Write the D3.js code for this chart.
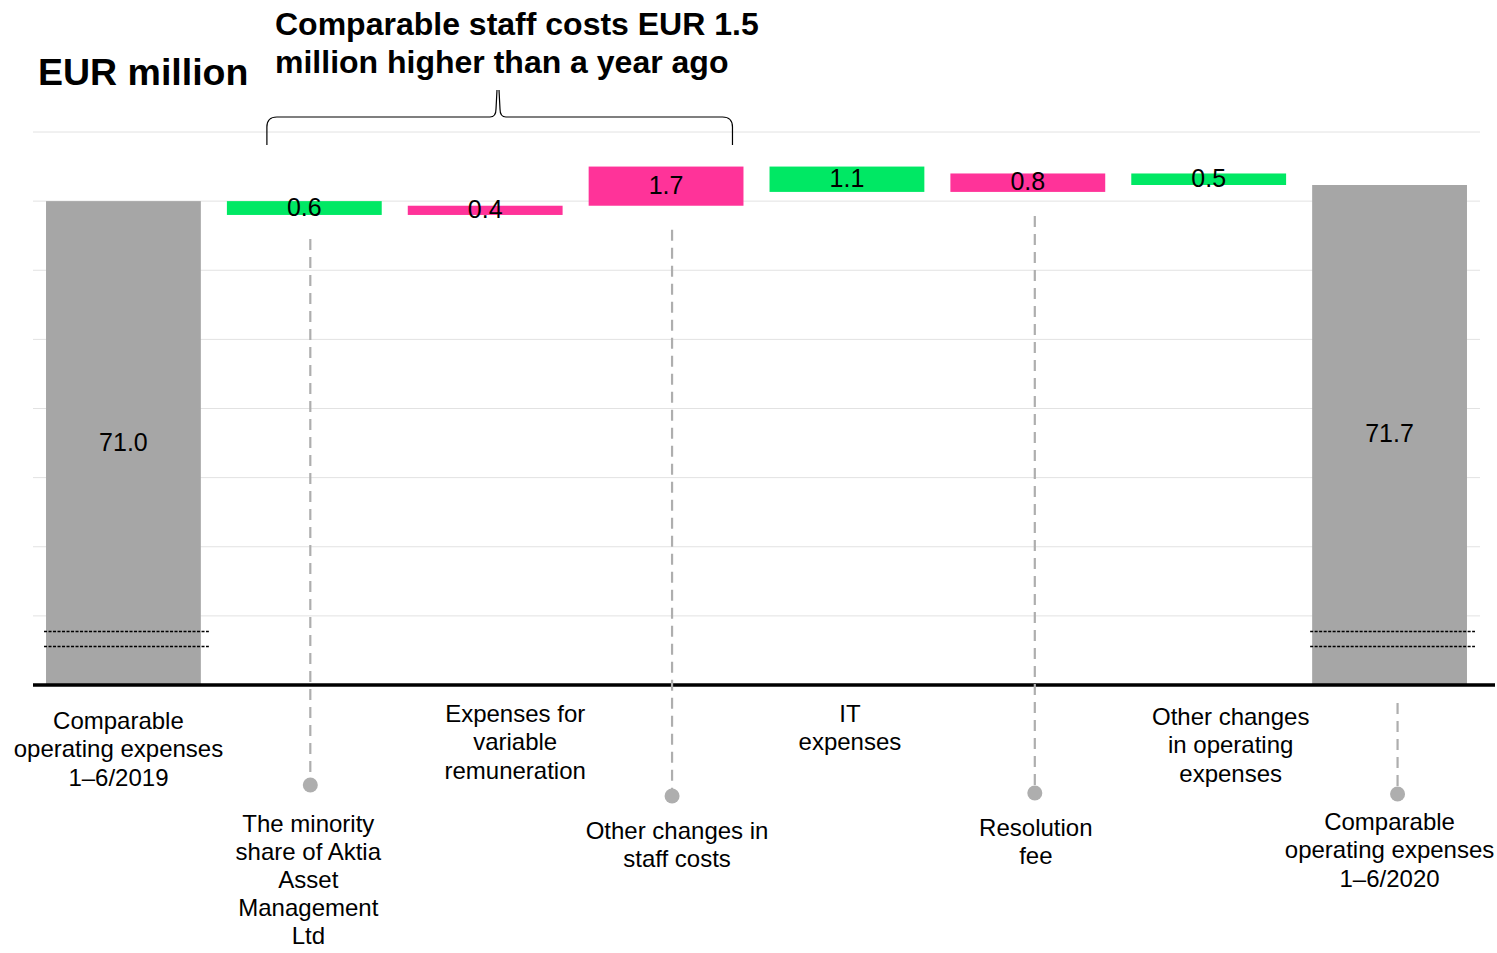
<!DOCTYPE html>
<html>
<head>
<meta charset="utf-8">
<script src="https://cdn.jsdelivr.net/npm/d3@7"></script>
<style>
  html, body { margin: 0; padding: 0; background: #fff; }
  svg { display: block; font-family: "Liberation Sans", Arial, sans-serif; }
</style>
</head>
<body>
<svg id="chart" width="1497" height="953"></svg>
<script>
// Waterfall: comparable operating expenses 1-6/2019 -> 1-6/2020 (EUR million)
const categories = [
  "Comparable operating expenses 1–6/2019",
  "The minority share of Aktia Asset Management Ltd",
  "Expenses for variable remuneration",
  "Other changes in staff costs",
  "IT expenses",
  "Resolution fee",
  "Other changes in operating expenses",
  "Comparable operating expenses 1–6/2020"
];
const labelLines = [
  ["Comparable", "operating expenses", "1–6/2019"],
  ["The minority", "share of Aktia", "Asset", "Management", "Ltd"],
  ["Expenses for", "variable", "remuneration"],
  ["Other changes in", "staff costs"],
  ["IT", "expenses"],
  ["Resolution", "fee"],
  ["Other changes", "in operating", "expenses"],
  ["Comparable", "operating expenses", "1–6/2020"]
];
const startTotal = 71.0;
const endTotal = 71.7;
const changes = [-0.6, 0.4, 1.7, -1.1, 0.8, -0.5];
const yTicks = [53, 56, 59, 62, 65, 68, 71, 74];
const yDomain = [50, 74];

// label placement: directly under the axis, or hung from a leader line with a dot
const labelMode = ["above", "leader", "above", "leader", "above", "leader", "above", "leader"];
const labelShift = [-5, 4, 30, 11, 3, 8, 22, 0];
const labelTop = [720, 823, 713, 830, 713, 827, 716, 821];
const labelLineH = [28.8, 28.2, 28.8, 28.8, 28.8, 28.8, 28.8, 28.8];
const leaderShift = [0, 6, 0, 6, 0, 7, 0, 8];
const dotY = [0, 785, 0, 796, 0, 793, 0, 794];

const colors = { total: "#a6a6a6", up: "#ff3399", down: "#00e864", leader: "#aeaeae", grid: "#e2e2e2" };

// build waterfall segments
const bars = [];
let running = startTotal;
bars.push({ cat: categories[0], lo: yDomain[0], hi: startTotal, type: "total", label: startTotal.toFixed(1) });
changes.forEach((d, i) => {
  const next = +(running + d).toFixed(2);
  bars.push({ cat: categories[i + 1], lo: Math.min(running, next), hi: Math.max(running, next),
              type: d >= 0 ? "up" : "down", label: Math.abs(d).toFixed(1) });
  running = next;
});
bars.push({ cat: categories[7], lo: yDomain[0], hi: endTotal, type: "total", label: endTotal.toFixed(1) });

const svg = d3.select("#chart");
const x = d3.scaleBand().domain(categories).range([33, 1480]).paddingInner(0.144).paddingOuter(0.072);
const y = d3.scaleLinear().domain(yDomain).range([685, 132]);

// gridlines
svg.append("g").selectAll("line").data(yTicks).join("line")
  .attr("x1", 33).attr("x2", 1480)
  .attr("y1", d => y(d)).attr("y2", d => y(d))
  .attr("stroke", colors.grid).attr("stroke-width", 1);

// bars
svg.append("g").selectAll("rect").data(bars).join("rect")
  .attr("x", d => x(d.cat)).attr("width", x.bandwidth())
  .attr("y", d => y(d.hi)).attr("height", d => y(d.lo) - y(d.hi))
  .attr("fill", d => colors[d.type]);

// axis-break marks on the total bars
const breaks = bars.filter(d => d.type === "total");
[631, 646].forEach(by => {
  svg.append("g").selectAll("line").data(breaks).join("line")
    .attr("x1", d => x(d.cat) - 2).attr("x2", d => x(d.cat) + x.bandwidth() + 8)
    .attr("y1", by + 0.5).attr("y2", by + 0.5)
    .attr("stroke", "#000").attr("stroke-width", 1.4).attr("stroke-dasharray", "3,1.5");
});

// baseline
svg.append("line").attr("x1", 33).attr("x2", 1495).attr("y1", 685).attr("y2", 685)
  .attr("stroke", "#000").attr("stroke-width", 3.5);

// value labels
svg.append("g").selectAll("text").data(bars).join("text")
  .attr("x", d => x(d.cat) + x.bandwidth() / 2)
  .attr("y", d => (y(d.lo) + y(d.hi)) / 2)
  .attr("dy", "0.3em").attr("text-anchor", "middle")
  .attr("font-size", 25).attr("fill", "#000")
  .text(d => d.label);

// leader lines with dots
const leaders = bars.map((d, i) => ({ d, i })).filter(o => labelMode[o.i] === "leader");
const lg = svg.append("g");
lg.selectAll("line").data(leaders).join("line")
  .attr("x1", o => x(o.d.cat) + x.bandwidth() / 2 + leaderShift[o.i])
  .attr("x2", o => x(o.d.cat) + x.bandwidth() / 2 + leaderShift[o.i])
  .attr("y1", o => o.d.type === "total" ? 703 : y(o.d.lo) + 24)
  .attr("y2", o => dotY[o.i])
  .attr("stroke", colors.leader).attr("stroke-width", 2.2).attr("stroke-dasharray", "11,7");
lg.selectAll("circle").data(leaders).join("circle")
  .attr("cx", o => x(o.d.cat) + x.bandwidth() / 2 + leaderShift[o.i])
  .attr("cy", o => dotY[o.i]).attr("r", 7.5).attr("fill", colors.leader);

// category labels
const cg = svg.append("g").attr("font-size", 24).attr("fill", "#000").attr("text-anchor", "middle");
categories.forEach((c, i) => {
  const cx = x(c) + x.bandwidth() / 2 + labelShift[i];
  const top = labelTop[i];
  const t = cg.append("text").attr("x", cx).attr("y", top);
  labelLines[i].forEach((ln, k) => {
    t.append("tspan").attr("x", cx).attr("y", top + k * labelLineH[i]).attr("dy", "0.36em").text(ln);
  });
});

// title
svg.append("text").attr("x", 38).attr("y", 85)
  .attr("font-size", 37.5).attr("font-weight", "bold").attr("fill", "#000")
  .text("EUR million");

// annotation over the staff-cost items
const ann = svg.append("text").attr("font-size", 32).attr("font-weight", "bold").attr("fill", "#000");
ann.append("tspan").attr("x", 275).attr("y", 35).text("Comparable staff costs EUR 1.5");
ann.append("tspan").attr("x", 275).attr("y", 73).text("million higher than a year ago");

// curly brace grouping the staff-cost items
const bL = x(categories[1]) + 40, bR = x(categories[3]) + x.bandwidth() - 11;
const bMid = 498, bTop = 117, bTip = 90, bBot = 145, r = 10;
const p = d3.path();
p.moveTo(bL, bBot);
p.lineTo(bL, bTop + r);
p.quadraticCurveTo(bL, bTop, bL + r, bTop);
p.lineTo(bMid - 8, bTop);
p.quadraticCurveTo(bMid - 2, bTop, bMid - 2, bTop - 8);
p.lineTo(bMid - 1, bTip);
p.moveTo(bMid + 1, bTip);
p.lineTo(bMid + 2, bTop - 8);
p.quadraticCurveTo(bMid + 2, bTop, bMid + 8, bTop);
p.lineTo(bR - r, bTop);
p.quadraticCurveTo(bR, bTop, bR, bTop + r);
p.lineTo(bR, bBot);
svg.append("path").attr("d", p.toString())
  .attr("fill", "none").attr("stroke", "#000").attr("stroke-width", 1.2);
</script>
</body>
</html>
